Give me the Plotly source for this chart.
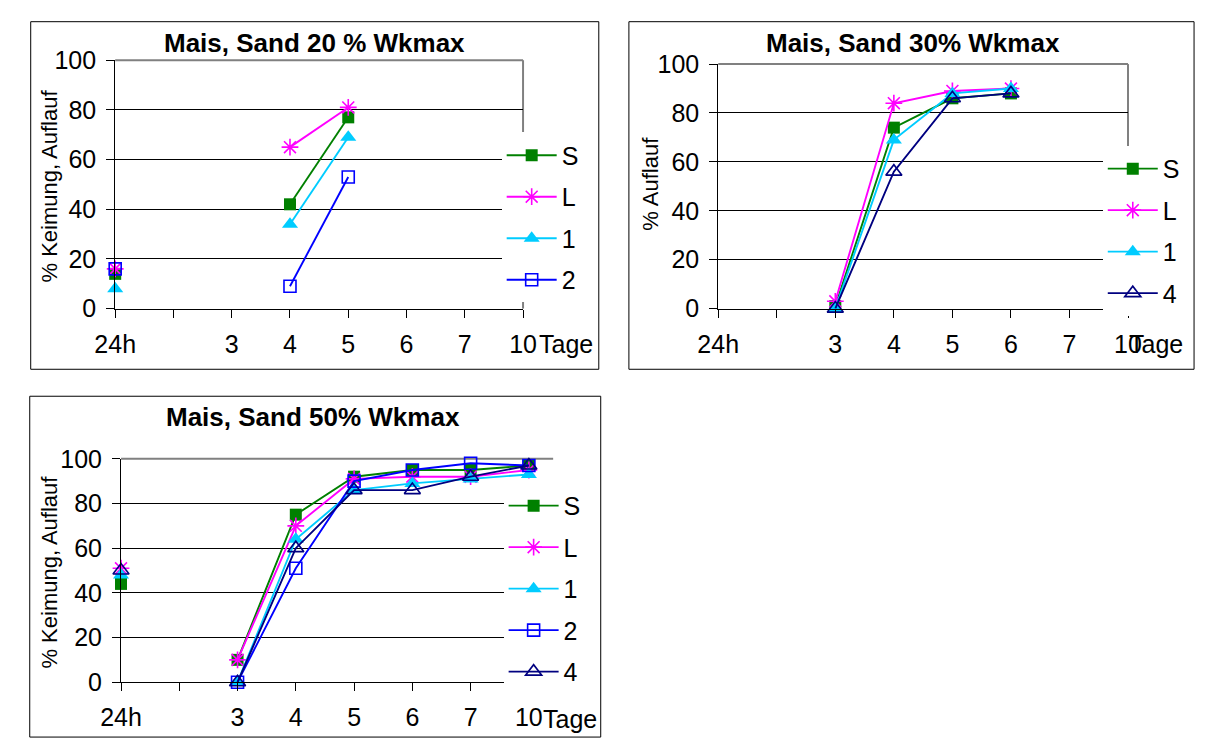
import plotly.graph_objects as go

W, H = 1210, 753

categories = ["24h", "", "3", "4", "5", "6", "7", "10"]

# Mais, Sand 20 % Wkmax
c1_S = [14, None, None, 42, 77, None, None, None]
c1_L = [16, None, None, 65, 81, None, None, None]
c1_1 = [8, None, None, 34, 69, None, None, None]
c1_2 = [16, None, None, 9, 53, None, None, None]

# Mais, Sand 30% Wkmax
c2_S = [None, None, 1, 74, 86, 88, None, None]
c2_L = [None, None, 3, 84, 89, 90, None, None]
c2_1 = [None, None, 0, 69, 88, 90, None, None]
c2_4 = [None, None, 0, 56, 86, 88, None, None]

# Mais, Sand 50% Wkmax
c3_S = [44, None, 10, 75, 92, 95, 95, 97]
c3_L = [51, None, 10, 70, 91, 92, 92, 95]
c3_1 = [48, None, 0, 64, 86, 89, 91, 93]
c3_2 = [None, None, 0, 51, 90, 95, 98, 97]
c3_4 = [50, None, 0, 60, 86, 86, 92, 97]

titles = ["Mais, Sand 20 % Wkmax", "Mais, Sand 30% Wkmax", "Mais, Sand 50% Wkmax"]
ytitles = ["% Keimung, Auflauf", "% Auflauf", "% Keimung, Auflauf"]
yticks = [0, 20, 40, 60, 80, 100]

FONT = "Liberation Sans, Arial, sans-serif"

STY = {
    "S": dict(color="#008000", symbol="square", size=12, lw=0),
    "L": dict(color="#FF00FF", symbol="asterisk-open", size=14, lw=1.6),
    "1": dict(color="#00CCFF", symbol="triangle-up", size=14, lw=0),
    "2": dict(color="#0000FF", symbol="square-open", size=12, lw=1.6),
    "4": dict(color="#000080", symbol="triangle-up-open", size=14, lw=1.6),
}

def fx(px):
    return px / W

def fy(py):
    return 1 - py / H

fig = go.Figure()
xs = list(range(len(categories)))

charts = [
    (1, [("S", c1_S), ("L", c1_L), ("1", c1_1), ("2", c1_2)]),
    (2, [("S", c2_S), ("L", c2_L), ("1", c2_1), ("4", c2_4)]),
    (3, [("S", c3_S), ("L", c3_L), ("1", c3_1), ("2", c3_2), ("4", c3_4)]),
]

for k, series in charts:
    sfx = "" if k == 1 else str(k)
    for name, vals in series:
        s = STY[name]
        fig.add_trace(go.Scatter(
            x=xs, y=vals, name=name, mode="lines+markers",
            xaxis="x" + sfx, yaxis="y" + sfx,
            legend="legend" + sfx, legendgroup=f"c{k}{name}",
            line=dict(color=s["color"], width=1.9),
            marker=dict(symbol=s["symbol"], size=s["size"], color=s["color"],
                        line=dict(color=s["color"], width=s["lw"])),
            cliponaxis=False,
        ))

geo = {
    1: dict(x0=97, x1=517, y0=48, y1=306),
    2: dict(x0=718, x1=1140, y0=52, y1=306),
    3: dict(x0=103, x1=523, y0=462, y1=694),
}

layout = dict(
    width=W, height=H, margin=dict(l=0, r=0, t=0, b=0),
    paper_bgcolor="white", plot_bgcolor="white",
    font=dict(family=FONT, color="black", size=25),
    shapes=[], annotations=[],
)

for k in (1, 2, 3):
    g = geo[k]
    sfx = "" if k == 1 else str(k)
    layout["xaxis" + sfx] = dict(
        domain=[fx(g["x0"]), fx(g["x1"])], anchor="y" + sfx,
        range=[0, 7], tickmode="array", tickvals=xs, ticktext=categories,
        showgrid=False, zeroline=False, showline=True, linecolor="black", linewidth=1,
        ticks="outside", ticklen=8, tickcolor="black", tickwidth=1,
        tickfont=dict(size=25), ticklabelstandoff=5, fixedrange=True,
    )
    layout["yaxis" + sfx] = dict(
        domain=[fy(g["y1"]), fy(g["y0"])], anchor="x" + sfx,
        range=[0, 100], tickmode="array", tickvals=yticks,
        showgrid=True, gridcolor="black", gridwidth=1,
        zeroline=False, showline=True, linecolor="black", linewidth=1,
        ticks="outside", ticklen=8, tickcolor="black", tickwidth=1,
        tickfont=dict(size=25), ticklabelstandoff=5, fixedrange=True,
    )

frames = [(10, 8, 595, 369), (626, 8, 1208, 369), (9, 397, 597, 751)]
for (x0, y0, x1, y1) in frames:
    layout["shapes"].append(dict(type="rect", xref="paper", yref="paper",
                                 x0=fx(x0), x1=fx(x1), y0=fy(y1), y1=fy(y0),
                                 line=dict(color="black", width=1), layer="below"))

gray = "#808080"
for k, top_end in ((1, 517), (2, 1140), (3, 548)):
    g = geo[k]
    layout["shapes"].append(dict(type="line", xref="paper", yref="paper",
                                 x0=fx(g["x0"]), x1=fx(top_end), y0=fy(g["y0"]), y1=fy(g["y0"]),
                                 line=dict(color=gray, width=2), layer="between"))
for k in (1, 2):
    g = geo[k]
    layout["shapes"].append(dict(type="line", xref="paper", yref="paper",
                                 x0=fx(g["x1"]), x1=fx(g["x1"]), y0=fy(g["y1"]), y1=fy(g["y0"]),
                                 line=dict(color=gray, width=2), layer="between"))

for (cx, cy, t) in ((302, 30, titles[0]), (919, 30, titles[1]), (301, 419, titles[2])):
    layout["annotations"].append(dict(x=fx(cx), y=fy(cy), xref="paper", yref="paper",
                                      text="<b>" + t + "</b>", showarrow=False,
                                      xanchor="center", yanchor="middle",
                                      font=dict(size=26, family=FONT)))
for (cx, cy, t) in ((29, 179, ytitles[0]), (648, 176, ytitles[1]), (29, 580, ytitles[2])):
    layout["annotations"].append(dict(x=fx(cx), y=fy(cy), xref="paper", yref="paper",
                                      text=t, showarrow=False, textangle=-90,
                                      xanchor="center", yanchor="middle",
                                      font=dict(size=22, family=FONT)))
for (lx, cy) in ((531, 343), (1139, 343), (536, 732)):
    layout["annotations"].append(dict(x=fx(lx), y=fy(cy), xref="paper", yref="paper",
                                      text="Tage", showarrow=False,
                                      xanchor="left", yanchor="middle",
                                      font=dict(size=25, family=FONT)))

leg_pos = {"legend": (495, 123), "legend2": (1114, 137), "legend3": (497, 487)}
for key, (lx, ly) in leg_pos.items():
    layout[key] = dict(x=fx(lx), y=fy(ly), xanchor="left", yanchor="top",
                       bgcolor="white", borderwidth=0, tracegroupgap=6,
                       itemwidth=50, font=dict(size=25, family=FONT),
                       itemclick=False, itemdoubleclick=False)

fig.update_layout(**layout)
fig.write_html("out.html")
